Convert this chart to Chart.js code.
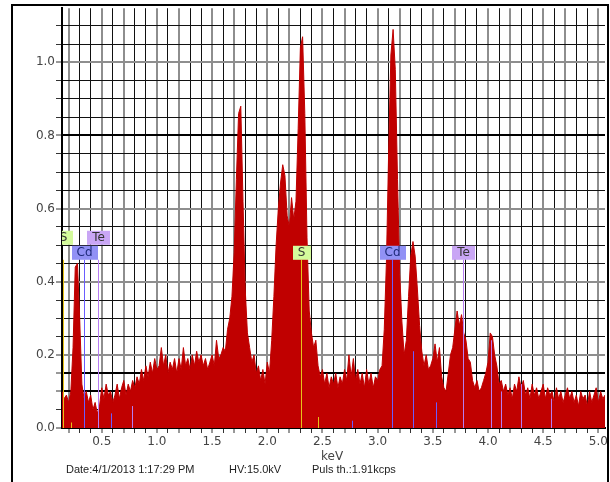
<!DOCTYPE html>
<html>
<head>
<meta charset="utf-8">
<script src="https://cdn.jsdelivr.net/npm/chart.js@4.4.0/dist/chart.umd.min.js"></script>
<style>
  html, body { margin: 0; padding: 0; background: #fff; }
  #wrap { position: relative; width: 610px; height: 482px; overflow: hidden; }
  #frame { position: absolute; left: 11px; top: 4px; width: 594px; height: 520px; border: 2px solid #000; }
  canvas { position: absolute; left: 0; top: 0; }
  .axt { position: absolute; font-family: "DejaVu Sans", Verdana, sans-serif; font-size: 12px; color: #444; white-space: nowrap; }
  .foot { position: absolute; font-family: "Liberation Sans", Arial, sans-serif; font-size: 11px; color: #222; white-space: nowrap; }
</style>
</head>
<body>
<div id="wrap">
  <div id="frame"></div>
  <canvas id="spec" width="610" height="482"></canvas>
  <div class="axt" style="left:321px; top:449px;">keV</div>
  <div class="foot" style="left:66px; top:463px;">Date:4/1/2013 1:17:29 PM</div>
  <div class="foot" style="left:229px; top:463px;">HV:15.0kV</div>
  <div class="foot" style="left:312px; top:463px;">Puls th.:1.91kcps</div>
</div>
<script>
// spectrum sampled every 0.02 keV starting at 0.14 keV
const energyStart = 0.14;
const energyStep = 0.02;
const counts = [
  0.10,0.08,0.09,0.07,0.10,0.22,0.44,0.45,0.30,0.12, // 0.14
  0.08,0.10,0.07,0.09,0.05,0.07,0.04,0.06,0.11,0.08, // 0.34
  0.12,0.09,0.10,0.07,0.09,0.12,0.08,0.11,0.13,0.09, // 0.54
  0.12,0.10,0.13,0.11,0.14,0.12,0.16,0.13,0.17,0.14, // 0.74
  0.18,0.15,0.19,0.16,0.17,0.22,0.17,0.20,0.15,0.18, // 0.94
  0.16,0.19,0.15,0.19,0.16,0.22,0.17,0.19,0.16,0.20, // 1.14
  0.17,0.21,0.18,0.20,0.17,0.19,0.16,0.18,0.20,0.17, // 1.34
  0.24,0.19,0.20,0.22,0.21,0.27,0.30,0.36,0.48,0.68, // 1.54
  0.86,0.88,0.62,0.38,0.26,0.22,0.18,0.20,0.15,0.17, // 1.74
  0.13,0.16,0.12,0.18,0.15,0.24,0.36,0.50,0.60,0.67, // 1.94
  0.72,0.69,0.58,0.55,0.63,0.57,0.62,0.82,1.04,1.07, // 2.14
  0.86,0.52,0.32,0.26,0.22,0.24,0.17,0.14,0.16,0.12, // 2.34
  0.15,0.11,0.14,0.12,0.15,0.11,0.14,0.12,0.16,0.13, // 2.54
  0.20,0.14,0.19,0.13,0.16,0.12,0.15,0.11,0.16,0.12, // 2.74
  0.15,0.11,0.14,0.13,0.16,0.17,0.27,0.46,0.76,1.02, // 2.94
  1.09,0.98,0.68,0.42,0.29,0.20,0.24,0.36,0.47,0.51, // 3.14
  0.47,0.38,0.28,0.21,0.17,0.20,0.16,0.17,0.19,0.23, // 3.34
  0.18,0.22,0.14,0.11,0.10,0.15,0.20,0.22,0.27,0.32, // 3.54
  0.28,0.31,0.26,0.24,0.19,0.18,0.13,0.11,0.13,0.10, // 3.74
  0.11,0.13,0.15,0.18,0.26,0.25,0.20,0.17,0.12,0.13, // 3.94
  0.10,0.12,0.09,0.11,0.08,0.12,0.10,0.14,0.11,0.13, // 4.14
  0.09,0.11,0.08,0.12,0.09,0.11,0.08,0.10,0.12,0.08, // 4.34
  0.11,0.09,0.10,0.07,0.11,0.08,0.10,0.07,0.09,0.11, // 4.54
  0.08,0.10,0.07,0.09,0.06,0.10,0.08,0.09,0.06,0.10, // 4.74
  0.07,0.09,0.11,0.07,0.10,0.08,0.09                 // 4.94
];

// labelled element lines
const markerNames = ['S', 'Cd', 'Te', 'S', 'Cd', 'Te'];
const markerEnergies = [0.149, 0.34, 0.465, 2.307, 3.133, 3.769];
const markerRow = [1, 0, 1, 0, 0, 0];

// other short element lines
const lineElements = ['S', 'Cd', 'Te', 'S', 'Cd', 'Cd', 'Cd', 'Te', 'Te', 'Te', 'Te'];
const lineEnergies = [0.22, 0.58, 0.77, 2.46, 2.77, 3.316, 3.53, 4.03, 4.12, 4.30, 4.57];
const lineHeights = [0.015, 0.04, 0.06, 0.03, 0.02, 0.21, 0.07, 0.24, 0.10, 0.12, 0.08];

const xTickStep = 0.1;
const yTickStep = 0.05;

const elemLine = { S: '#e6c21a', Cd: '#6a5cff', Te: '#b77cf2' };
const elemBox = { S: '#d4fb9c', Cd: '#9191f5', Te: '#c9a6f5' };
const elemText = { S: '#333', Cd: '#1e2a7a', Te: '#333' };

const points = counts.map((c, i) => ({ x: +(energyStart + i * energyStep).toFixed(2), y: c }));

const markers = {
  id: 'markers',
  afterDatasetsDraw(chart) {
    const { ctx, chartArea: a, scales: { x, y } } = chart;
    ctx.save();
    ctx.beginPath();
    ctx.rect(a.left, a.top, a.right - a.left, a.bottom - a.top);
    ctx.clip();
    ctx.lineWidth = 1;
    for (let i = 0; i < lineEnergies.length; i++) {
      const px = Math.round(x.getPixelForValue(lineEnergies[i])) + 0.5;
      ctx.strokeStyle = elemLine[lineElements[i]];
      ctx.beginPath();
      ctx.moveTo(px, y.getPixelForValue(0));
      ctx.lineTo(px, y.getPixelForValue(lineHeights[i]));
      ctx.stroke();
    }
    const lineTop = y.getPixelForValue(0.46);
    ctx.font = '12px "DejaVu Sans", Verdana, sans-serif';
    ctx.textAlign = 'center';
    ctx.textBaseline = 'middle';
    for (let i = 0; i < markerNames.length; i++) {
      const el = markerNames[i];
      const px = Math.round(x.getPixelForValue(markerEnergies[i])) + 0.5;
      ctx.strokeStyle = elemLine[el];
      ctx.beginPath();
      ctx.moveTo(px, y.getPixelForValue(0));
      ctx.lineTo(px, lineTop);
      ctx.stroke();
      const w = ctx.measureText(el).width + 10;
      const bottom = lineTop - markerRow[i] * 15;
      ctx.fillStyle = elemBox[el];
      ctx.fillRect(Math.round(px - w / 2), bottom - 14, Math.round(w), 14);
      ctx.fillStyle = elemText[el];
      ctx.fillText(el, px, bottom - 7);
    }
    ctx.restore();
  }
};

function xGridColor(c) {
  const k = Math.round(c.tick.value * 10) % 5;
  return (k === 0 || k === 2) ? '#8e8e8e' : '#111';
}
function xGridWidth(c) {
  const k = Math.round(c.tick.value * 10) % 5;
  return (k === 0 || k === 2) ? 2 : 1;
}
function yGridColor(c) {
  const k = Math.round(c.tick.value * 100);
  if (k === 80 || k === 10 || k === 15) return '#000';
  if (k % 20 === 0) return '#8e8e8e';
  return '#111';
}
function yGridWidth(c) {
  const k = Math.round(c.tick.value * 100);
  return (k === 80 || k === 10 || k === 15 || k % 20 === 0) ? 2 : 1;
}

new Chart(document.getElementById('spec'), {
  type: 'line',
  data: {
    datasets: [{
      data: points,
      borderColor: '#c00000',
      backgroundColor: '#c00000',
      borderWidth: 1,
      pointRadius: 0,
      fill: 'origin',
      tension: 0
    }]
  },
  plugins: [markers],
  options: {
    responsive: false,
    animation: false,
    layout: { padding: { top: 7, right: 5, left: 0, bottom: 0 } },
    plugins: { legend: { display: false }, tooltip: { enabled: false } },
    scales: {
      x: {
        type: 'linear',
        min: 0.14,
        max: 5.06,
        ticks: {
          stepSize: xTickStep,
          includeBounds: false,
          autoSkip: false,
          maxRotation: 0,
          padding: 2,
          color: '#444',
          font: { family: 'DejaVu Sans', size: 12 },
          callback: v => (Math.round(v * 10) % 5 === 0 ? v.toFixed(1) : '')
        },
        grid: { color: xGridColor, lineWidth: xGridWidth, tickLength: 5, tickColor: '#333', tickWidth: 1 },
        border: { color: '#000', width: 2 },
        afterFit: s => { s.height = 54; }
      },
      y: {
        min: 0,
        max: 1.148,
        ticks: {
          stepSize: yTickStep,
          includeBounds: false,
          autoSkip: false,
          padding: 1,
          color: '#444',
          font: { family: 'DejaVu Sans', size: 12 },
          callback: v => (Math.round(v * 100) % 20 === 0 ? v.toFixed(1) : '')
        },
        grid: { color: yGridColor, lineWidth: yGridWidth, tickLength: 6, tickColor: '#333', tickWidth: 1 },
        border: { color: '#000', width: 2 },
        afterFit: s => { s.width = 62; }
      }
    }
  }
});
</script>
</body>
</html>
